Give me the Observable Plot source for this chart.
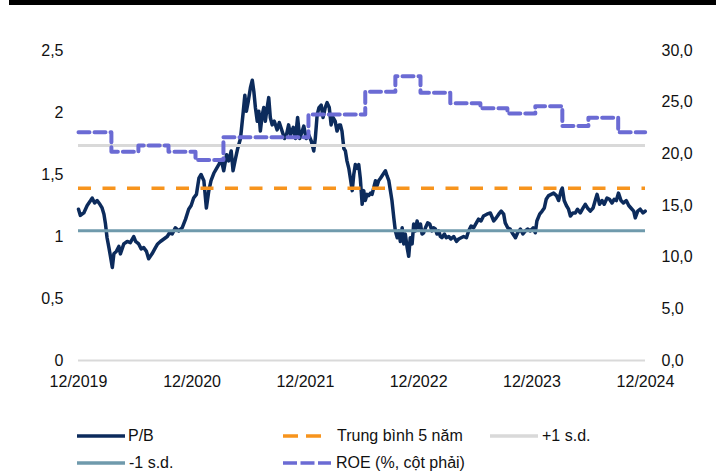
<!DOCTYPE html>
<html>
<head>
<meta charset="utf-8">
<script src="https://cdn.jsdelivr.net/npm/d3@7"></script>
<script src="https://cdn.jsdelivr.net/npm/@observablehq/plot@0.6"></script>
<style>
  body { margin: 0; background: #fff; font-family: "Liberation Sans", Arial, sans-serif; }
  #wrap { position: relative; width: 716px; height: 473px; overflow: hidden; }
  #chart { position: absolute; left: 0; top: 0; }
  #topbar { position: absolute; left: 9px; top: 0; width: 707px; height: 5px; background: #000; }
  .lg-swatch { position: absolute; }
  .lg-text { position: absolute; font-size: 16px; line-height: 20px; color: #111; white-space: nowrap; }
</style>
</head>
<body>
<div id="wrap">
  <div id="chart"></div>
  <div id="topbar"></div>
  <div id="legend"></div>
</div>
<script>
// P/B history: dates as Excel serials (days since 1899-12-30), values in x
const pbSerial = [
  43800, 43806, 43817, 43828, 43839, 43844, 43852, 43860, 43869, 43876, 43882, 43887, 43892, 43898, 43903, 43909,
  43914, 43922, 43930, 43935, 43946, 43957, 43967, 43978, 43984, 43994, 44002, 44010, 44019, 44026, 44037, 44048,
  44055, 44064, 44075, 44086, 44093, 44102, 44112, 44123, 44134, 44145, 44155, 44163, 44171, 44180, 44188, 44195,
  44204, 44212, 44220, 44227, 44236, 44245, 44252, 44260, 44268, 44277, 44284, 44292, 44298, 44306, 44313, 44322,
  44331, 44336, 44341, 44347, 44354, 44360, 44365, 44370, 44376, 44381, 44386, 44392, 44397, 44402, 44408, 44413,
  44418, 44424, 44431, 44440, 44447, 44456, 44464, 44470, 44477, 44483, 44492, 44499, 44506, 44513, 44521, 44526,
  44534, 44542, 44550, 44558, 44563, 44569, 44575, 44582, 44588, 44595, 44601, 44608, 44614, 44620, 44627, 44633,
  44640, 44644, 44649, 44655, 44660, 44665, 44671, 44676, 44682, 44687, 44692, 44698, 44703, 44708, 44714, 44719,
  44724, 44730, 44735, 44741, 44746, 44751, 44757, 44762, 44767, 44773, 44781, 44789, 44794, 44800, 44805, 44810,
  44816, 44821, 44827, 44832, 44837, 44843, 44848, 44853, 44859, 44864, 44869, 44875, 44880, 44885, 44891, 44896,
  44902, 44907, 44912, 44918, 44925, 44932, 44939, 44944, 44950, 44955, 44961, 44966, 44971, 44979, 44985, 44993,
  45000, 45009, 45018, 45025, 45033, 45041, 45050, 45057, 45065, 45073, 45082, 45089, 45097, 45105, 45116, 45127,
  45138, 45146, 45154, 45162, 45170, 45175, 45183, 45191, 45200, 45208, 45215, 45224, 45232, 45240, 45247, 45256,
  45265, 45272, 45277, 45286, 45294, 45301, 45307, 45315, 45323, 45331, 45340, 45347, 45355, 45359, 45365, 45372,
  45379, 45385, 45393, 45401, 45408, 45417, 45426, 45433, 45440, 45449, 45458, 45465, 45471, 45479, 45487, 45494,
  45503, 45511, 45519, 45526, 45533, 45540, 45548, 45556, 45565, 45573, 45580, 45589, 45594, 45602, 45610, 45619,
  45626
];
const pbValue = [
  1.22, 1.17, 1.19, 1.25, 1.29, 1.31, 1.27, 1.29, 1.26, 1.23, 1.18, 1.10, 0.99, 0.91, 0.84, 0.75,
  0.86, 0.88, 0.92, 0.86, 0.94, 0.96, 0.95, 1.00, 0.96, 0.94, 0.90, 0.91, 0.88, 0.82, 0.86, 0.91,
  0.94, 0.96, 0.98, 1.00, 1.03, 1.02, 1.07, 1.045, 1.07, 1.14, 1.22, 1.25, 1.31, 1.34, 1.47, 1.50,
  1.45, 1.23, 1.37, 1.45, 1.51, 1.55, 1.58, 1.62, 1.53, 1.66, 1.61, 1.69, 1.53, 1.63, 1.71, 1.79,
  2.01, 2.14, 2.01, 2.09, 2.20, 2.26, 2.17, 2.04, 1.93, 2.01, 1.85, 1.98, 2.04, 1.93, 2.04, 2.12,
  1.96, 1.90, 1.93, 1.86, 1.92, 1.85, 1.79, 1.82, 1.90, 1.82, 1.88, 1.79, 1.96, 1.79, 1.85, 1.89,
  1.79, 1.82, 1.77, 1.69, 1.79, 1.98, 2.04, 2.06, 1.96, 2.04, 2.08, 2.04, 1.90, 1.96, 1.93, 1.85,
  1.90, 1.90, 1.85, 1.71, 1.69, 1.61, 1.55, 1.47, 1.37, 1.50, 1.58, 1.55, 1.58, 1.47, 1.26, 1.37,
  1.29, 1.34, 1.33, 1.35, 1.34, 1.39, 1.45, 1.41, 1.45, 1.47, 1.50, 1.53, 1.49, 1.45, 1.37, 1.29,
  1.15, 1.045, 0.99, 1.045, 0.96, 1.07, 0.94, 1.02, 0.91, 0.84, 0.99, 0.94, 1.10, 1.045, 1.125, 1.07,
  1.10, 1.02, 1.03, 1.07, 1.11, 1.10, 1.045, 1.07, 1.06, 1.02, 1.045, 1.00, 0.99, 1.02, 0.99, 1.00,
  0.98, 1.00, 0.96, 0.98, 0.99, 1.00, 0.99, 1.045, 1.085, 1.07, 1.11, 1.14, 1.125, 1.165, 1.18, 1.19,
  1.125, 1.15, 1.18, 1.205, 1.18, 1.11, 1.07, 1.06, 1.02, 0.99, 1.03, 1.06, 1.02, 1.045, 1.06, 1.045,
  1.07, 1.03, 1.125, 1.18, 1.205, 1.23, 1.30, 1.33, 1.34, 1.35, 1.33, 1.29, 1.37, 1.39, 1.29, 1.25,
  1.22, 1.165, 1.19, 1.19, 1.22, 1.19, 1.23, 1.26, 1.23, 1.205, 1.23, 1.29, 1.34, 1.26, 1.29, 1.26,
  1.31, 1.30, 1.27, 1.30, 1.29, 1.35, 1.29, 1.27, 1.29, 1.25, 1.23, 1.205, 1.15, 1.205, 1.22, 1.19,
  1.205
];

// Five-year P/B average and one standard deviation
const pbMean = 1.39;
const pbSd = 0.344;

// ROE (%), trailing, shown on the right axis; each value holds until the next date
const roeSerial = [43800, 43906, 43993, 44090, 44177, 44267, 44541, 44724, 44821, 44902, 44998, 45095, 45182, 45272, 45359, 45443, 45539, 45626];
const roeValue  = [22.1, 20.2, 20.8, 20.2, 19.4, 21.6, 23.8, 26.0, 27.5, 25.9, 24.9, 24.4, 23.9, 24.6, 22.7, 23.5, 22.1, 22.1];

// Axes
const xStart = 43800;   // 12/2019
const xEnd = 45627;     // 12/2024
const xTicks = [43800, 44166, 44531, 44896, 45261, 45627];
const leftTicks = [0, 0.5, 1, 1.5, 2, 2.5];
const rightTicks = [0, 5, 10, 15, 20, 25, 30];
const leftMax = 2.5;
const rightMax = 30;

// Legend entries
const legendLabels = ["P/B", "Trung bình 5 năm", "+1 s.d.", "-1 s.d.", "ROE (%, cột phải)"];

const colors = {
  pb: "#0c2b5c",
  mean: "#f7941d",
  plus: "#d9d9d9",
  minus: "#6f9aac",
  roe: "#6b6bd4",
  base: "#d9d9d9"
};

const toDate = s => new Date(Date.UTC(1899, 11, 30) + s * 864e5);
const pb = pbSerial.map((s, i) => ({date: toDate(s), value: pbValue[i]}));
const roe = roeSerial.map((s, i) => ({date: toDate(s), value: roeValue[i]}));
const toLeft = v => v * leftMax / rightMax;
const comma = d => String(d).replace(".", ",");

const chart = Plot.plot({
  width: 716,
  height: 400,
  marginTop: 50,
  marginBottom: 40,
  marginLeft: 78,
  marginRight: 71,
  style: {
    fontFamily: "'Liberation Sans', Arial, sans-serif",
    fontSize: "16px",
    color: "#111",
    background: "transparent",
    overflow: "visible"
  },
  x: {type: "utc", domain: [toDate(xStart), toDate(xEnd)]},
  y: {domain: [0, leftMax]},
  marks: [
    Plot.axisX({ticks: xTicks.map(toDate), tickFormat: d3.utcFormat("%m/%Y"), tickSize: 0, tickPadding: 15, label: null}),
    Plot.axisY({ticks: leftTicks, tickFormat: comma, tickSize: 0, tickPadding: 15, label: null}),
    Plot.axisY({
      anchor: "right",
      ticks: rightTicks.map(toLeft),
      tickFormat: d => (d * rightMax / leftMax).toFixed(1).replace(".", ","),
      tickSize: 0,
      tickPadding: 16,
      textAnchor: "start",
      label: null
    }),
    Plot.ruleY([0], {stroke: colors.base, strokeWidth: 2}),
    Plot.line(pb, {x: "date", y: "value", stroke: colors.pb, strokeWidth: 3.5, strokeLinejoin: "round"}),
    Plot.ruleY([pbMean + pbSd], {stroke: colors.plus, strokeWidth: 3}),
    Plot.ruleY([pbMean], {stroke: colors.mean, strokeWidth: 3.5, strokeDasharray: "13,11.5"}),
    Plot.ruleY([pbMean - pbSd], {stroke: colors.minus, strokeWidth: 3}),
    Plot.line(roe, {
      x: "date",
      y: d => toLeft(d.value),
      curve: "step-after",
      stroke: colors.roe,
      strokeWidth: 4,
      strokeDasharray: "11,5"
    })
  ]
});
document.getElementById("chart").appendChild(chart);

// Legend below the plot: swatch and label per series
const legendLayout = [
  {x: 77, w: 48, y: 436, tx: 128, color: colors.pb, dash: null},
  {x: 283, w: 38, y: 436, tx: 337, color: colors.mean, dash: "15,8"},
  {x: 490, w: 48, y: 436, tx: 542, color: colors.plus, dash: null},
  {x: 77, w: 48, y: 463, tx: 129, color: colors.minus, dash: null},
  {x: 283, w: 48, y: 463, tx: 336, color: colors.roe, dash: "14,3.5"}
];
const legend = document.getElementById("legend");
legendLabels.forEach((label, i) => {
  const L = legendLayout[i];
  const ns = "http://www.w3.org/2000/svg";
  const svg = document.createElementNS(ns, "svg");
  svg.setAttribute("class", "lg-swatch");
  svg.setAttribute("width", L.w);
  svg.setAttribute("height", 8);
  svg.style.left = L.x + "px";
  svg.style.top = (L.y - 4) + "px";
  const ln = document.createElementNS(ns, "line");
  ln.setAttribute("x1", 0); ln.setAttribute("x2", L.w);
  ln.setAttribute("y1", 4); ln.setAttribute("y2", 4);
  ln.setAttribute("stroke", L.color);
  ln.setAttribute("stroke-width", 3.5);
  if (L.dash) ln.setAttribute("stroke-dasharray", L.dash);
  svg.appendChild(ln);
  legend.appendChild(svg);
  const t = document.createElement("div");
  t.className = "lg-text";
  t.textContent = label;
  t.style.left = L.tx + "px";
  t.style.top = (L.y - 10) + "px";
  legend.appendChild(t);
});
</script>
</body>
</html>
